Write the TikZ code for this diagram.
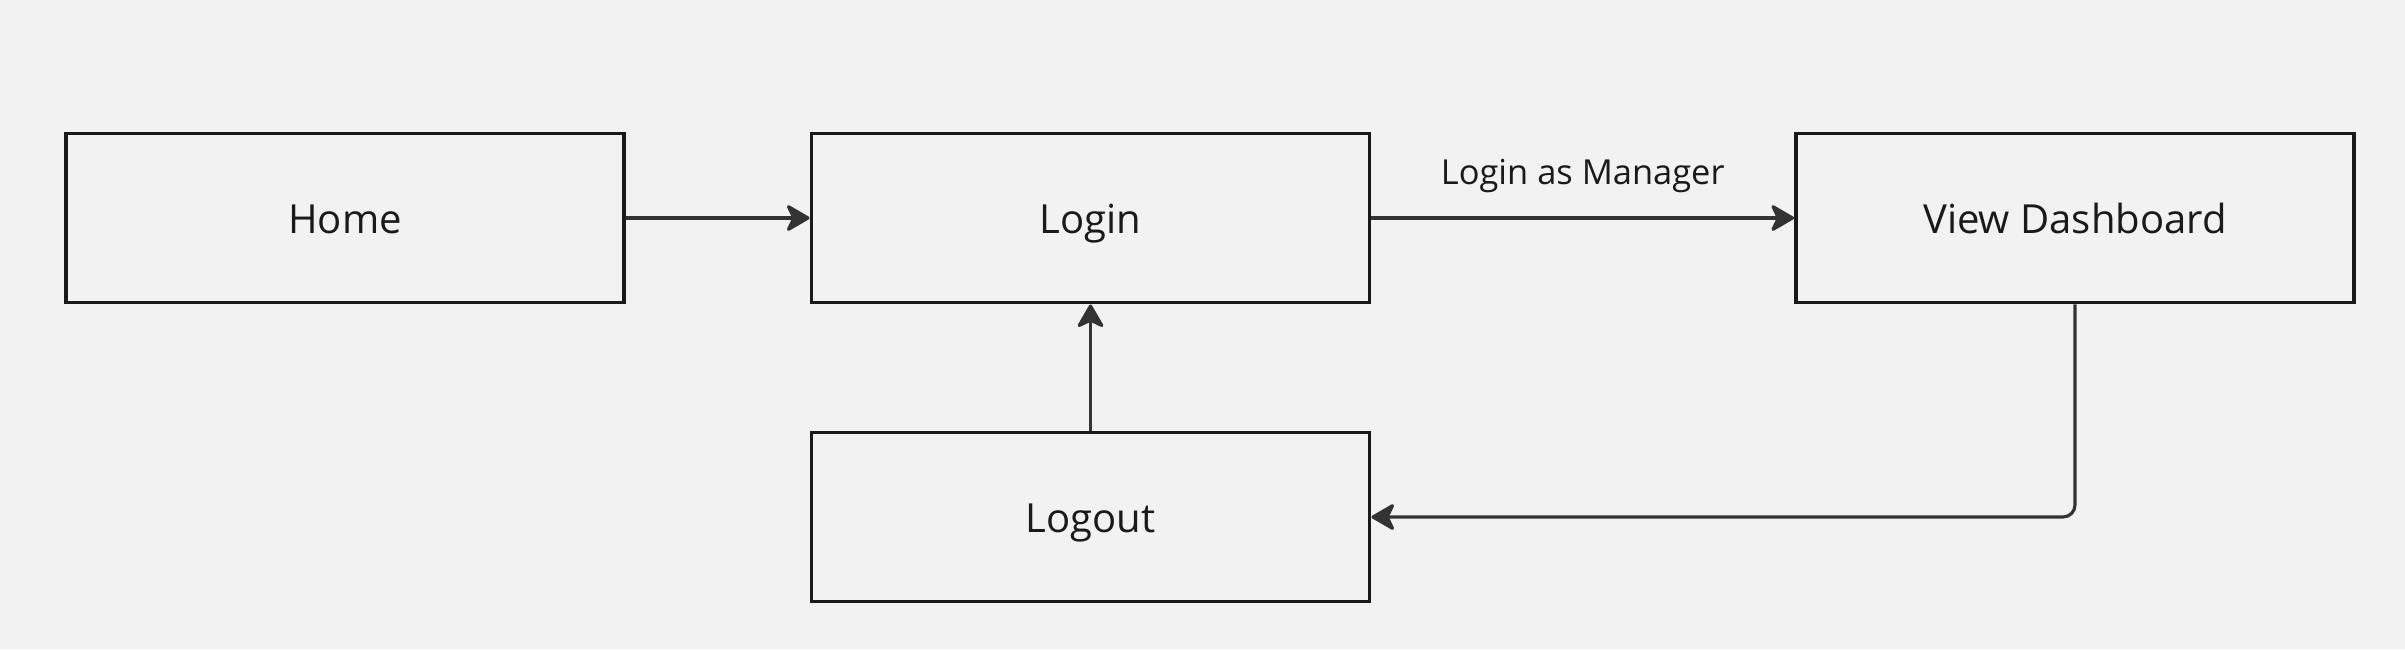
\documentclass[tikz,border=0pt]{standalone}
\usepackage{fontspec}
\setmainfont{Open Sans}
\usepackage{xcolor}
\usetikzlibrary{arrows.meta,bending,positioning}
\definecolor{flowbg}{HTML}{F2F2F2}
\definecolor{flowline}{HTML}{333333}
\definecolor{flowtext}{HTML}{1A1A1A}

\begin{document}
\begin{tikzpicture}
      \fill[flowbg] (0,0) rectangle (24.05,-6.49);
      \useasboundingbox (0,0) rectangle (24.05,-6.49);

      \begin{scope}[every node/.style={rectangle, minimum width = 5.58cm, minimum height = 1.69cm,
                    line width = 1.1pt, draw = flowtext, text = flowtext,
                    text height = 0.9em, text depth = 0pt,
                    font = \fontsize{11.4}{14}\selectfont}]
          \node (home) at (3.45,-2.18) {Home};
          \node (login) at (10.905,-2.18) {Login};
          \node (dash) at (20.75,-2.18) {View Dashboard};
          \node (logout) at (10.905,-5.17) {Logout};
      \end{scope}

      \begin{scope}[>={Stealth[length=0.26cm, width=0.3cm, inset=0.07cm, round, flowline]},
                    every node/.style={text = flowtext, text height = 0.714em, text depth = 0pt,
                                       font = \fontsize{9.8}{12}\selectfont},
                    every edge/.style={draw, flowline, line width = 0.9pt}]
          \path [->] (home) edge (login);
          \path [->] (login) edge node[midway, yshift = 0.46cm] {Login as Manager} (dash);
          \path [->] (logout) edge (login);
          \draw [->, flowline, line width = 0.9pt, rounded corners = 0.12cm] (dash.south) |- (logout.east);
      \end{scope}
      \end{tikzpicture}
\end{document}
